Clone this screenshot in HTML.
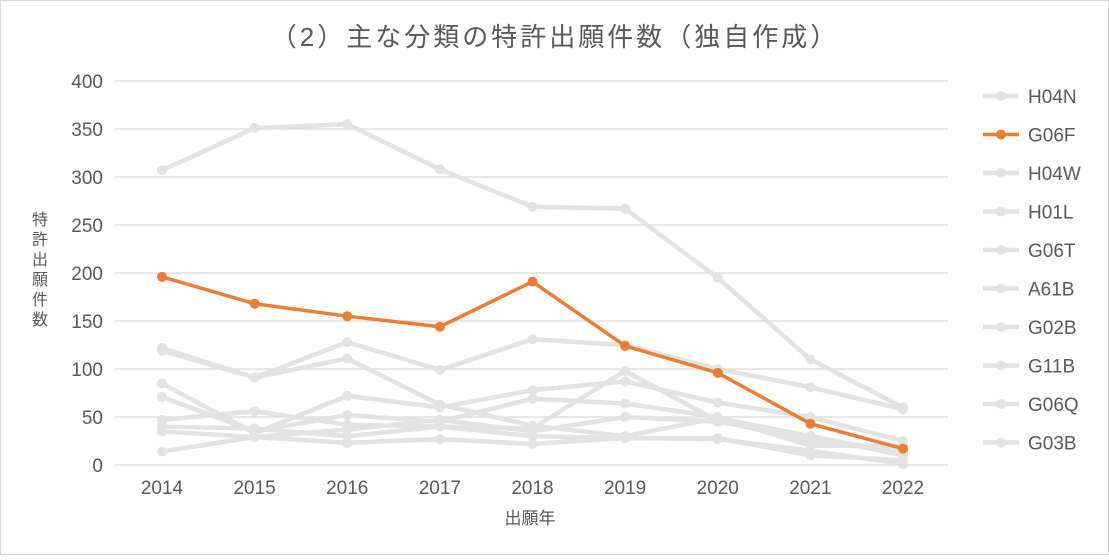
<!DOCTYPE html>
<html><head><meta charset="utf-8"><style>
body{margin:0;background:#fff;}
svg text{font-family:"Liberation Sans","Noto Sans CJK JP",sans-serif;fill:#595959;}
</style></head><body>
<svg width="1109" height="555" xmlns="http://www.w3.org/2000/svg">
<rect x="0.5" y="0.5" width="1108" height="554" fill="#fff" stroke="#d9d9d9"/>
<text x="555" y="46" font-size="26" letter-spacing="3" text-anchor="middle">（2）主な分類の特許出願件数（独自作成）</text>
<g id="grid"></g><g id="axes"></g><g id="series"></g><g id="legend"></g>
<text x="530" y="524" font-size="17" text-anchor="middle">出願年</text>
<g font-size="16">
<text x="40" y="225" text-anchor="middle">特</text><text x="40" y="245" text-anchor="middle">許</text><text x="40" y="265" text-anchor="middle">出</text><text x="40" y="285" text-anchor="middle">願</text><text x="40" y="305" text-anchor="middle">件</text><text x="40" y="325" text-anchor="middle">数</text>
</g>
</svg>
<script>
const years=["2014","2015","2016","2017","2018","2019","2020","2021","2022"];
const yTicks=[0,50,100,150,200,250,300,350,400];
const names=["H04N","G06F","H04W","H01L","G06T","A61B","G02B","G11B","G06Q","G03B"];
const H04N=[307,351,355,308,269,267,195,110,60];
const G06F=[196,168,155,144,191,124,96,43,17];
const H04W=[122,91,128,99,131,125,100,81,58];
const H01L=[119,91,111,63,41,30,49,30,10];
const G06T=[85,33,72,60,78,87,65,50,25];
const A61B=[71,35,52,45,69,64,50,20,20];
const G02B=[47,56,42,40,38,98,46,25,15];
const G11B=[40,38,30,40,30,28,28,10,5];
const G06Q=[35,29,37,47,35,50,45,30,12];
const G03B=[14,29,23,27,22,28,27,15,1];
const values=[H04N,G06F,H04W,H01L,G06T,A61B,G02B,G11B,G06Q,G03B];
const NS="http://www.w3.org/2000/svg";
const x0=162,x1=903,yBase=465,yTop=81;
const xs=i=>x0+i*(x1-x0)/(years.length-1);
const ys=v=>yBase-v*(yBase-yTop)/400;
function mk(t,a,p){const e=document.createElementNS(NS,t);for(const k in a)e.setAttribute(k,a[k]);p.appendChild(e);return e;}
const grid=document.getElementById('grid'),axes=document.getElementById('axes'),ser=document.getElementById('series'),leg=document.getElementById('legend');
yTicks.forEach(v=>{
 const l=mk('line',{x1:115,x2:948,y1:ys(v),y2:ys(v),stroke:'#d9d9d9','stroke-width':1.3},grid);
 
 
 const t=mk('text',{x:103,y:ys(v)+7,'font-size':19,'text-anchor':'end'},axes);t.textContent=v;
 
 
});
years.forEach((y,i)=>{
 const t=mk('text',{x:xs(i),y:494,'font-size':19,'text-anchor':'middle'},axes);t.textContent=y;
 
 
});
const order=[0,2,3,4,5,6,7,8,9,1];
order.forEach(k=>{
 const c=k===1?'#ed7d31':'#e3e3e3';
 const g=mk('g',{},ser);
 
 
 mk('polyline',{points:values[k].map((v,i)=>xs(i)+','+ys(v)).join(' '),fill:'none',stroke:c,'stroke-width':k===1?3.5:4.5,'stroke-linejoin':'round'},g);
 values[k].forEach((v,i)=>{const p=mk('circle',{cx:xs(i),cy:ys(v),r:5,fill:c},g);
  
  });
});
names.forEach((n,k)=>{
 const y=96+k*38.5,c=k===1?'#ed7d31':'#e3e3e3';
 const g=mk('g',{},leg);
 
 
 mk('line',{x1:983,x2:1019,y1:y,y2:y,stroke:c,'stroke-width':k===1?3.5:4.5},g);
 mk('circle',{cx:1001,cy:y,r:5,fill:c},g);
 const t=mk('text',{x:1028,y:y+7,'font-size':19},g);t.textContent=n;
});
</script>
</body></html>
